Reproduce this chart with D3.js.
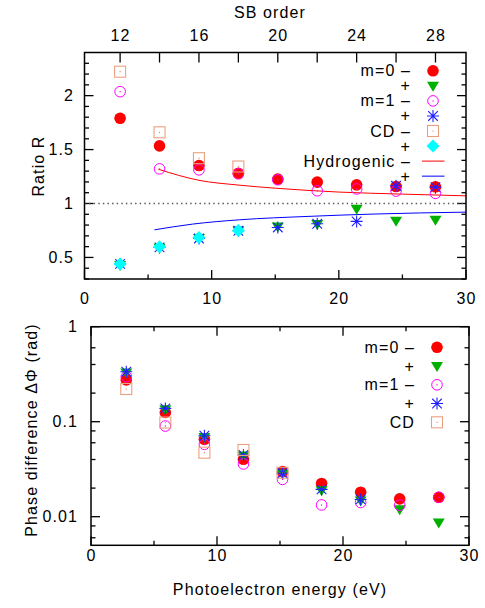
<!DOCTYPE html>
<html>
<head>
<meta charset="utf-8">
<script src="https://cdn.jsdelivr.net/npm/d3@7"></script>
<style>
  body { margin: 0; background: #fff; }
  svg text { font-family: "Liberation Sans", Arial, sans-serif; font-size: 16px; fill: #000; letter-spacing: 1.1px; }
</style>
</head>
<body>
<svg id="chart" width="485" height="608"></svg>
<script>
// photon energy and ionisation potential used for the SB order axis
const photon = 1.55;
const ionPot = 15.8;
const sbOrders = [12, 14, 16, 18, 20, 22, 24, 26, 28];
const sbTicks = [12, 14, 16, 18, 20, 22, 24, 26, 28];
const sbLabels = [12, 16, 20, 24, 28];

// ratio R (top panel)
const ratioM0minus = [1.79, 1.534, 1.352, 1.28, 1.226, 1.198, 1.173, 1.157, 1.155];
const ratioM0plus = [0.43, 0.59, 0.68, 0.75, 0.787, 0.81, 0.951, 0.84, 0.849];
const ratioM1minus = [2.037, 1.321, 1.312, 1.275, 1.22, 1.118, 1.135, 1.115, 1.094];
const ratioM1plus = [0.44, 0.593, 0.676, 0.747, 0.778, 0.812, 0.834, 1.164, 1.152];
const ratioCDminus = [2.222, 1.66, 1.42, 1.343];
const ratioCDplus = [0.44, 0.6, 0.685, 0.75];
const hydroMinusE = [5.8, 9.0, 12.0, 15.0, 20.0, 25.0, 30.0];
const hydroMinusR = [1.318, 1.215, 1.172, 1.142, 1.106, 1.087, 1.071];
const hydroPlusE = [5.5, 8.5, 12.2, 17.5, 22.7, 30.0];
const hydroPlusR = [0.756, 0.809, 0.849, 0.88, 0.902, 0.92];

// phase difference (bottom panel)
const phaseM0minus = [0.275, 0.125, 0.0652, 0.0402, 0.0298, 0.0224, 0.0181, 0.0154, 0.016];
const phaseM0plus = [0.33, 0.135, 0.069, 0.044, 0.0285, 0.019, 0.0148, 0.012, 0.0087];
const phaseM1minus = [0.298, 0.09, 0.0578, 0.0359, 0.0247, 0.0133, 0.0141, 0.0132, 0.016];
const phaseM1plus = [0.336, 0.138, 0.0712, 0.0446, 0.0287, 0.0194, 0.0152];
const phaseCD = [0.221, 0.098, 0.0472, 0.0504, 0.029];

const energyTicks = [0, 10, 20, 30];
const energyMinor = [5, 15, 25];
const ratioTicks = [0.5, 1, 1.5, 2];
const ratioMinor = [0.3, 0.4, 0.6, 0.7, 0.8, 0.9, 1.1, 1.2, 1.3, 1.4, 1.6, 1.7, 1.8, 1.9, 2.1, 2.2, 2.3];
const phaseTicks = [0.01, 0.1, 1];
const phaseTickLabels = ['0.01', '0.1', '1'];
const phaseMinor = [0.006, 0.008, 0.02, 0.04, 0.06, 0.08, 0.2, 0.4, 0.6];

const svg = d3.select('#chart');
const energyOf = q => photon * q - ionPot;

// marker painters
const markers = {
    dot: (g, x, y) => g.append('circle').attr('cx', x).attr('cy', y).attr('r', 5.8)
        .attr('fill', '#ff0000'),
    tri: (g, x, y) => g.append('path')
        .attr('d', `M${x - 6},${y - 4}L${x + 6},${y - 4}L${x},${y + 6}Z`)
        .attr('fill', '#00b000'),
    ring: (g, x, y) => {
        g.append('circle').attr('cx', x).attr('cy', y).attr('r', 5.3)
            .attr('fill', 'none').attr('stroke', '#ff00ff').attr('stroke-width', 1);
        g.append('circle').attr('cx', x).attr('cy', y).attr('r', 0.7).attr('fill', '#ff00ff');
    },
    star: (g, x, y) => {
        const s = 6;
        g.append('path')
            .attr('d', `M${x - s},${y}L${x + s},${y}M${x},${y - s}L${x},${y + s}` +
                `M${x - s * 0.8},${y - s * 0.8}L${x + s * 0.8},${y + s * 0.8}` +
                `M${x - s * 0.8},${y + s * 0.8}L${x + s * 0.8},${y - s * 0.8}`)
            .attr('stroke', '#2020ff').attr('stroke-width', 1.1).attr('fill', 'none');
    },
    square: (g, x, y) => {
        g.append('rect').attr('x', x - 5.5).attr('y', y - 5.5).attr('width', 11).attr('height', 11)
            .attr('fill', 'none').attr('stroke', '#eaa080').attr('stroke-width', 1.1);
        g.append('circle').attr('cx', x).attr('cy', y).attr('r', 0.6).attr('fill', '#e07050');
    },
    diamond: (g, x, y) => g.append('path')
        .attr('d', `M${x},${y - 6.5}L${x + 6.5},${y}L${x},${y + 6.5}L${x - 6.5},${y}Z`)
        .attr('fill', '#00ffff')
};

function drawSeries(g, values, marker, x, y) {
    values.forEach((v, i) => markers[marker](g, x(energyOf(sbOrders[i])), y(v)));
}

function frame(g, x, y) {
    const [x0, x1] = x.range();
    const [y1, y0] = y.range();
    g.append('rect').attr('x', x0).attr('y', y0).attr('width', x1 - x0).attr('height', y1 - y0)
        .attr('fill', 'none').attr('stroke', '#000').attr('stroke-width', 1.5);
}

function yTicks(g, x, y, major, minor) {
    const [x0, x1] = x.range();
    major.forEach(v => {
        g.append('line').attr('x1', x0).attr('x2', x0 + 9).attr('y1', y(v)).attr('y2', y(v));
        g.append('line').attr('x1', x1).attr('x2', x1 - 9).attr('y1', y(v)).attr('y2', y(v));
    });
    minor.forEach(v => {
        g.append('line').attr('x1', x0).attr('x2', x0 + 4.5).attr('y1', y(v)).attr('y2', y(v));
        g.append('line').attr('x1', x1).attr('x2', x1 - 4.5).attr('y1', y(v)).attr('y2', y(v));
    });
}

function xTicks(g, x, yPos, dir) {
    energyTicks.forEach(v => g.append('line').attr('x1', x(v)).attr('x2', x(v))
        .attr('y1', yPos).attr('y2', yPos + dir * 9));
    energyMinor.forEach(v => g.append('line').attr('x1', x(v)).attr('x2', x(v))
        .attr('y1', yPos).attr('y2', yPos + dir * 4.5));
}

// ---------------- top panel ----------------
const xTop = d3.scaleLinear().domain([0, 30]).range([84.5, 466]);
const yTop = d3.scaleLinear().domain([0.3, 2.4]).range([279, 52.5]);
const topPanel = svg.append('g');
const topTicks = topPanel.append('g').attr('stroke', '#000').attr('stroke-width', 1.3);

// dotted reference line at R = 1
topPanel.append('line').attr('x1', xTop(0)).attr('x2', xTop(30)).attr('y1', yTop(1)).attr('y2', yTop(1))
    .attr('stroke', '#555').attr('stroke-width', 1.3).attr('stroke-dasharray', '1.4,3.2');

const lineGen = d3.line().curve(d3.curveMonotoneX);
topPanel.append('path')
    .attr('d', lineGen(hydroMinusE.map((e, i) => [xTop(e), yTop(hydroMinusR[i])])))
    .attr('fill', 'none').attr('stroke', '#ff0000').attr('stroke-width', 1);
topPanel.append('path')
    .attr('d', lineGen(hydroPlusE.map((e, i) => [xTop(e), yTop(hydroPlusR[i])])))
    .attr('fill', 'none').attr('stroke', '#0000ff').attr('stroke-width', 1);

const topPts = topPanel.append('g');
drawSeries(topPts, ratioM0minus, 'dot', xTop, yTop);
drawSeries(topPts, ratioM0plus, 'tri', xTop, yTop);
drawSeries(topPts, ratioM1minus, 'ring', xTop, yTop);
drawSeries(topPts, ratioM1plus, 'star', xTop, yTop);
drawSeries(topPts, ratioCDminus, 'square', xTop, yTop);
drawSeries(topPts, ratioCDplus, 'diamond', xTop, yTop);

yTicks(topTicks, xTop, yTop, ratioTicks, ratioMinor);
xTicks(topTicks, xTop, 279, -1);
sbTicks.forEach(q => topTicks.append('line').attr('x1', xTop(energyOf(q))).attr('x2', xTop(energyOf(q)))
    .attr('y1', 52.5).attr('y2', 62.5));
frame(topPanel, xTop, yTop);

topPanel.selectAll('.ylab').data(ratioTicks).join('text')
    .attr('x', 74).attr('y', d => yTop(d) + 5.5).attr('text-anchor', 'end').text(d => d);
topPanel.selectAll('.xlab').data(energyTicks).join('text')
    .attr('x', d => xTop(d) + 0.5).attr('y', 304).attr('text-anchor', 'middle').text(d => d);
topPanel.selectAll('.sblab').data(sbLabels).join('text')
    .attr('x', d => xTop(energyOf(d)) + 0.5).attr('y', 40.5).attr('text-anchor', 'middle').text(d => d);
topPanel.append('text').attr('x', 270).attr('y', 18).attr('text-anchor', 'middle').text('SB order');
topPanel.append('text').attr('transform', 'translate(44,166) rotate(-90)')
    .attr('text-anchor', 'middle').text('Ratio R');

// legend (top)
const topLegend = [
    { label: 'm=0 \u2013', mark: 'dot' },
    { label: '+', mark: 'tri' },
    { label: 'm=1 \u2013', mark: 'ring' },
    { label: '+', mark: 'star' },
    { label: 'CD \u2013', mark: 'square' },
    { label: '+', mark: 'diamond' },
    { label: 'Hydrogenic \u2013', line: '#ff0000' },
    { label: '+', line: '#0000ff' }
];
topLegend.forEach((d, i) => {
    const cy = 70.8 + i * 15.05;
    topPanel.append('text').attr('x', 411).attr('y', cy + 5.5).attr('text-anchor', 'end').text(d.label);
    if (d.mark) markers[d.mark](topPanel, 433, cy);
    else topPanel.append('line').attr('x1', 422).attr('x2', 444.5).attr('y1', cy).attr('y2', cy)
        .attr('stroke', d.line).attr('stroke-width', 1);
});

// ---------------- bottom panel ----------------
const xBot = d3.scaleLinear().domain([0, 30]).range([91, 469]);
const yBot = d3.scaleLog().domain([0.005, 1]).range([545.3, 326.7]);
const botPanel = svg.append('g');
const botTicks = botPanel.append('g').attr('stroke', '#000').attr('stroke-width', 1.3);

const botPts = botPanel.append('g');
drawSeries(botPts, phaseM0minus, 'dot', xBot, yBot);
drawSeries(botPts, phaseM0plus, 'tri', xBot, yBot);
drawSeries(botPts, phaseM1minus, 'ring', xBot, yBot);
drawSeries(botPts, phaseM1plus, 'star', xBot, yBot);
drawSeries(botPts, phaseCD, 'square', xBot, yBot);

yTicks(botTicks, xBot, yBot, phaseTicks, phaseMinor);
xTicks(botTicks, xBot, 545.3, -1);
xTicks(botTicks, xBot, 326.7, 1);
frame(botPanel, xBot, yBot);

botPanel.selectAll('.ylab').data(phaseTicks).join('text')
    .attr('x', 78).attr('y', d => yBot(d) + 5.5).attr('text-anchor', 'end')
    .text((d, i) => phaseTickLabels[i]);
botPanel.selectAll('.xlab').data(energyTicks).join('text')
    .attr('x', d => xBot(d) + 0.5).attr('y', 561).attr('text-anchor', 'middle').text(d => d);
botPanel.append('text').attr('x', 280).attr('y', 595).attr('text-anchor', 'middle')
    .text('Photoelectron energy (eV)');
botPanel.append('text').attr('transform', 'translate(37,430) rotate(-90)')
    .attr('text-anchor', 'middle').text('Phase difference \u0394\u03a6 (rad)');

const botLegend = [
    { label: 'm=0 \u2013', mark: 'dot' },
    { label: '+', mark: 'tri' },
    { label: 'm=1 \u2013', mark: 'ring' },
    { label: '+', mark: 'star' },
    { label: 'CD', mark: 'square' }
];
botLegend.forEach((d, i) => {
    const cy = 347.3 + i * 18.75;
    botPanel.append('text').attr('x', 415).attr('y', cy + 5.5).attr('text-anchor', 'end').text(d.label);
    markers[d.mark](botPanel, 437, cy);
});
</script>
</body>
</html>
